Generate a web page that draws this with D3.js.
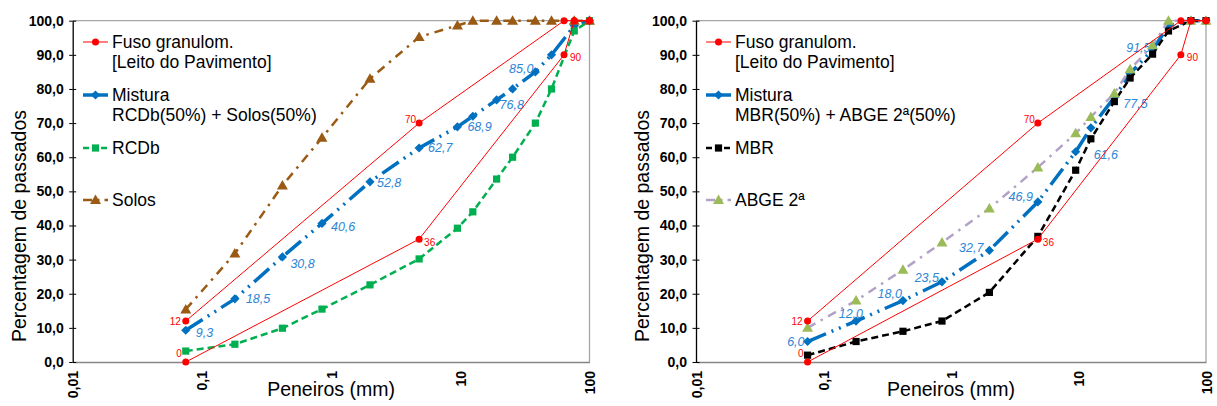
<!DOCTYPE html>
<html>
<head>
<meta charset="utf-8">
<script src="https://cdn.jsdelivr.net/npm/d3@7"></script>
<style>
  body { margin: 0; background: #fff; }
  svg { display: block; font-family: "Liberation Sans", Arial, sans-serif; }
</style>
</head>
<body>
<svg id="chart" width="1217" height="406"></svg>
<script>
// peneiros (mm)
const sieves = [0.075, 0.18, 0.42, 0.85, 2.0, 4.8, 9.5, 12.5, 19.1, 25.4, 38.1, 50.8, 76.2, 100];

// fuso granulométrico (leito do pavimento)
const fusoX = [0.075, 4.8, 63.5, 76.2, 100];
const fusoInf = [0, 36, 90, 100, 100];
const fusoSup = [12, 70, 100, 100, 100];

// painel esquerdo
const rcdb = [3.2, 5.2, 9.9, 15.5, 22.6, 30.2, 39.2, 44.0, 53.6, 60.0, 70.0, 80.0, 97.0, 100];
const solos = [15.4, 31.8, 51.7, 65.7, 83.0, 95.2, 98.6, 100, 100, 100, 100, 100, 100, 100];
const misturaA = [9.3, 18.5, 30.8, 40.6, 52.8, 62.7, 68.9, 72.0, 76.8, 80.0, 85.0, 90.0, 98.5, 100];

// painel direito
const mbr = [2.0, 6.0, 9.0, 12.0, 20.4, 36.8, 56.2, 65.4, 76.3, 83.2, 90.2, 97.0, 100, 100];
const abge = [10.0, 18.0, 27.0, 35.0, 45.0, 57.0, 67.0, 71.8, 78.7, 85.8, 92.8, 100, 100, 100];
const misturaB = [6.0, 12.0, 18.0, 23.5, 32.7, 46.9, 61.6, 68.6, 77.5, 84.5, 91.5, 98.5, 100, 100];

const xTicks = [0.01, 0.1, 1, 10, 100];
const xTickLabels = ['0,01', '0,1', '1', '10', '100'];
const yTicks = [0, 10, 20, 30, 40, 50, 60, 70, 80, 90, 100];

const labelledIdx = [0, 1, 2, 3, 4, 5, 6, 8, 10];

const fmt = v => d3.format('.1f')(v).replace('.', ',');

const svg = d3.select('#chart');

// label placement [dx, dy, anchor] for blue labels
const placeA = [[10, 2, 'start'], [11, 0, 'start'], [8, 7, 'start'], [9, 3, 'start'], [7, 1, 'start'],
  [9, 0, 'start'], [10, 0, 'start'], [3, 5, 'start'], [-2, -3.5, 'end']];
const placeB = [[-3, 0, 'end'], [7, -7, 'end'], [-1, -7, 'end'], [-3, -4.5, 'end'], [-6, -3, 'end'],
  [-5, -5, 'end'], [18, 3, 'start'], [9, 6, 'start'], [-2, -2.5, 'end']];

const BLUE = '#0070C0', GREEN = '#00B050', BROWN = '#9A5A14', BLACK = '#000',
  LAV = '#B3A2C7', TRI = '#9BBB59', RED = '#FF0000';

function marker(g, type, x, y, fill) {
  if (type === 'circle') {
    g.append('circle').attr('cx', x).attr('cy', y).attr('r', 3.5).attr('fill', fill);
  } else if (type === 'diamond') {
    const s = 4.6;
    g.append('path').attr('d', `M${x},${y - s}L${x + s},${y}L${x},${y + s}L${x - s},${y}Z`).attr('fill', fill);
  } else if (type === 'square') {
    g.append('rect').attr('x', x - 3.6).attr('y', y - 3.6).attr('width', 7.2).attr('height', 7.2).attr('fill', fill);
  } else if (type === 'triangle') {
    g.append('path').attr('d', `M${x},${y - 5.5}L${x + 5.5},${y + 4}L${x - 5.5},${y + 4}Z`).attr('fill', fill);
  }
}

function panel(cfg) {
  const x = d3.scaleLog().domain([0.01, 100]).range([cfg.x0, cfg.x1]);
  const y = d3.scaleLinear().domain([0, 100]).range([362, 20.7]);
  const g = svg.append('g');

  // borda
  g.append('line').attr('x1', cfg.x0).attr('x2', cfg.x1).attr('y1', y(100)).attr('y2', y(100))
    .attr('stroke', '#A6A6A6').attr('stroke-width', 1.3);
  g.append('line').attr('x1', cfg.x1).attr('x2', cfg.x1).attr('y1', y(100)).attr('y2', y(0))
    .attr('stroke', '#A6A6A6').attr('stroke-width', 1.3);

  // eixo x
  const ax = g.append('g').attr('transform', `translate(0,${y(0)})`)
    .call(d3.axisBottom(x).tickValues(xTicks).tickSize(0).tickFormat((d, i) => xTickLabels[i]));
  ax.select('.domain').attr('stroke', '#868686').attr('stroke-width', 1.3);
  ax.selectAll('text')
    .attr('transform', 'rotate(-90)')
    .attr('x', -9).attr('y', 0).attr('dy', '0.36em')
    .attr('text-anchor', 'end')
    .attr('font-size', 14).attr('font-weight', 'bold').attr('fill', '#000')
    .attr('font-family', '"Liberation Sans", Arial, sans-serif');

  // eixo y
  const ay = g.append('g').attr('transform', `translate(${cfg.x0},0)`)
    .call(d3.axisLeft(y).tickValues(yTicks).tickSizeInner(3.5).tickSizeOuter(0).tickPadding(5.5).tickFormat(fmt));
  ay.select('.domain').attr('stroke', '#000').attr('stroke-width', 1.3);
  ay.selectAll('.tick line').attr('stroke', '#000').attr('x2', -3.5);
  ay.selectAll('.tick').append('line').attr('x1', 0).attr('x2', 3.5).attr('stroke', '#000');
  ay.selectAll('text').attr('font-size', 14).attr('font-weight', 'bold').attr('fill', '#000')
    .attr('font-family', '"Liberation Sans", Arial, sans-serif');

  // títulos
  g.append('text').attr('x', (cfg.x0 + cfg.x1) / 2).attr('y', 396)
    .attr('text-anchor', 'middle').attr('font-size', 19.5).text('Peneiros (mm)');
  g.append('text').attr('transform', `translate(${cfg.x0 - 47},226) rotate(-90)`)
    .attr('text-anchor', 'middle').attr('font-size', 19.5).text('Percentagem de passados');

  const line = d3.line().x(d => x(d[0])).y(d => y(d[1]));

  function series(xs, vals, s) {
    const pts = xs.map((v, i) => [v, vals[i]]);
    g.append('path').attr('d', line(pts)).attr('fill', 'none')
      .attr('stroke', s.color).attr('stroke-width', s.width)
      .attr('stroke-dasharray', s.dash || null);
    pts.forEach(p => marker(g, s.marker, x(p[0]), y(p[1]), s.fill || s.color));
    return pts;
  }

  cfg.series.forEach(s => {
    const pts = series(sieves, s.values, s);
    if (s.labels) {
      labelledIdx.forEach((idx, k) => {
        const [dx, dy, anchor] = s.labels[k];
        g.append('text').attr('x', x(pts[idx][0]) + dx).attr('y', y(pts[idx][1]) + dy)
          .attr('dy', '0.35em').attr('text-anchor', anchor)
          .attr('font-size', 12.5).attr('font-style', 'italic').attr('fill', '#2E86D6')
          .text(fmt(pts[idx][1]));
      });
    }
  });

  // fuso
  const fs = { color: RED, width: 1, marker: 'circle' };
  series(fusoX, fusoInf, fs);
  series(fusoX, fusoSup, fs);
  const redLab = [[fusoX[0], fusoSup[0], -5, 0, 'end'], [fusoX[0], fusoInf[0], -4, -9, 'end'],
    [fusoX[1], fusoSup[1], -3, -4, 'end'], [fusoX[1], fusoInf[1], 5, 3, 'start'],
    [fusoX[2], fusoInf[2], 6, 3, 'start']];
  redLab.forEach(([vx, vy, dx, dy, anchor]) => {
    g.append('text').attr('x', x(vx) + dx).attr('y', y(vy) + dy).attr('dy', '0.35em')
      .attr('text-anchor', anchor).attr('font-size', 10).attr('fill', RED).text(vy);
  });

  // legenda
  const lx = cfg.legendX;
  cfg.legend.forEach(item => {
    const ly = item.y;
    g.append('line').attr('x1', lx).attr('x2', lx + 25).attr('y1', ly).attr('y2', ly)
      .attr('stroke', item.color).attr('stroke-width', item.width)
      .attr('stroke-dasharray', item.dash || null);
    marker(g, item.marker, lx + 12.5, ly, item.fill || item.color);
    item.text.forEach((t, i) => {
      g.append('text').attr('x', lx + 29).attr('y', ly + i * 20).attr('dy', '0.35em')
        .attr('font-size', 17.5).attr('fill', '#000').text(t);
    });
  });
}

panel({
  x0: 72.7, x1: 589.5, legendX: 83,
  series: [
    { values: misturaA, color: BLUE, width: 3.5, dash: '20,6,2,6,2,6', marker: 'diamond', labels: placeA },
    { values: rcdb, color: GREEN, width: 2.5, dash: '7,4', marker: 'square' },
    { values: solos, color: BROWN, width: 2.5, dash: '9,6,2.5,6', marker: 'triangle' }
  ],
  legend: [
    { y: 42, color: RED, width: 1, marker: 'circle', text: ['Fuso granulom.', '[Leito do Pavimento]'] },
    { y: 95, color: BLUE, width: 3.5, marker: 'diamond', text: ['Mistura', 'RCDb(50%) + Solos(50%)'] },
    { y: 148, color: GREEN, width: 2.5, dash: '6,3', marker: 'square', text: ['RCDb'] },
    { y: 200, color: BROWN, width: 2.5, dash: '9,5,2.5,5', marker: 'triangle', text: ['Solos'] }
  ]
});

panel({
  x0: 696, x1: 1206, legendX: 706,
  series: [
    { values: misturaB, color: BLUE, width: 3.5, dash: '20,6,2,6,2,6', marker: 'diamond', labels: placeB },
    { values: mbr, color: BLACK, width: 2.5, dash: '7,4', marker: 'square' },
    { values: abge, color: LAV, width: 2.5, dash: '9,6,2.5,6', marker: 'triangle', fill: TRI }
  ],
  legend: [
    { y: 42, color: RED, width: 1, marker: 'circle', text: ['Fuso granulom.', '[Leito do Pavimento]'] },
    { y: 95, color: BLUE, width: 3.5, marker: 'diamond', text: ['Mistura', 'MBR(50%) + ABGE 2ª(50%)'] },
    { y: 148, color: BLACK, width: 2.5, dash: '6,3', marker: 'square', text: ['MBR'] },
    { y: 200, color: LAV, width: 2.5, dash: '9,5,2.5,5', marker: 'triangle', fill: TRI, text: ['ABGE 2ª'] }
  ]
});
</script>
</body>
</html>
